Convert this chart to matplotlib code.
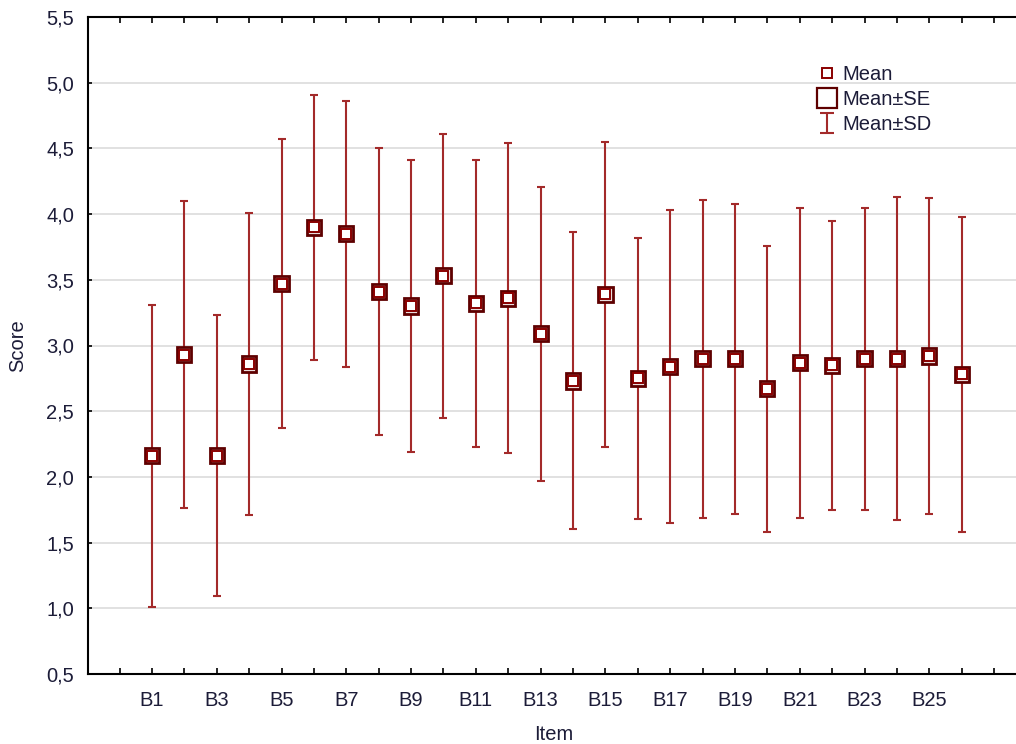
import numpy as np
import matplotlib
matplotlib.use("Agg")
import matplotlib.pyplot as plt
from matplotlib.lines import Line2D
from matplotlib.ticker import FuncFormatter

plt.rcParams["font.family"] = ["Liberation Sans", "DejaVu Sans"]

# 数据：均值、标准差、标准误
items = [f"B{i}" for i in range(1, 27)]
means = [2.16, 2.93, 2.16, 2.86, 3.47, 3.90, 3.85, 3.41, 3.30, 3.53,
         3.32, 3.36, 3.09, 2.73, 3.39, 2.75, 2.84, 2.90, 2.90, 2.67,
         2.87, 2.85, 2.90, 2.90, 2.92, 2.78]
sds = [1.15, 1.17, 1.07, 1.15, 1.10, 1.01, 1.01, 1.09, 1.11, 1.08,
       1.09, 1.18, 1.12, 1.13, 1.16, 1.07, 1.19, 1.21, 1.18, 1.09,
       1.18, 1.10, 1.15, 1.23, 1.20, 1.20]
ses = [0.058] * 26

WHISK = "#a32a2a"
BOXEDGE = "#5e0000"
TXT = "#1c1c38"
FS = 14.5

fig = plt.figure(figsize=(10.16, 7.44), dpi=100)
ax = fig.add_axes([88 / 1016, 70 / 744, 932 / 1016, 657 / 744])

x = np.arange(1, len(items) + 1)
ax.errorbar(x, means, yerr=sds, fmt="none", ecolor=WHISK, elinewidth=1.5,
            capsize=3, capthick=1.5, zorder=3)
ax.bar(x, 2 * np.array(ses), bottom=np.array(means) - np.array(ses), width=0.44,
       color="#eadcdc", edgecolor=BOXEDGE, linewidth=2, zorder=4)
ax.plot(x, means, ls="none", marker="s", ms=6.5, mfc="white", mec="#8a0000",
        mew=1.4, zorder=5)

ax.set_xlim(-0.975, 27.8)
ax.set_ylim(0.5, 5.5)
yt = np.arange(0.5, 5.51, 0.5)
ax.set_yticks(yt)
ax.yaxis.set_major_formatter(FuncFormatter(lambda v, p: f"{v:.1f}".replace(".", ",")))
ax.set_xticks(range(0, 28))
ax.set_xticklabels([items[i - 1] if (1 <= i <= 26 and i % 2 == 1) else "" for i in range(0, 28)])
ax.tick_params(axis="x", direction="in", length=4, width=1.2, top=True,
               pad=12, labelsize=FS, labelcolor=TXT)
ax.tick_params(axis="y", direction="in", length=3, width=1.2, pad=10,
               labelsize=FS, labelcolor=TXT)
ax.grid(axis="y", color="#dcdcdc", lw=1.2, zorder=0)
ax.set_axisbelow(True)
ax.spines["right"].set_visible(False)
for s in ("left", "bottom", "top"):
    ax.spines[s].set_linewidth(1.5)

ax.set_xlabel("Item", fontsize=FS, color=TXT, labelpad=11)
ax.set_ylabel("Score", fontsize=FS, color=TXT, labelpad=14)

# 图例
h_mean = Line2D([0], [0], ls="none", marker="s", ms=6.5, mfc="white", mec="#8a0000", mew=1.4)
h_se = Line2D([0], [0], ls="none", marker="s", ms=14, mfc="white", mec=BOXEDGE, mew=1.6)
h_sd = ax.errorbar([np.nan], [np.nan], yerr=[1.0], fmt="none", ecolor=WHISK,
                   elinewidth=1.5, capsize=5, capthick=1.5)
ax.legend([h_mean, h_se, h_sd], ["Mean", "Mean±SE", "Mean±SD"], loc="upper left",
          bbox_to_anchor=(0.763, 0.955), frameon=False, fontsize=FS,
          handlelength=1.0, handletextpad=0.25, labelspacing=0.3,
          labelcolor=TXT)

fig.savefig("out.png", dpi=100)
